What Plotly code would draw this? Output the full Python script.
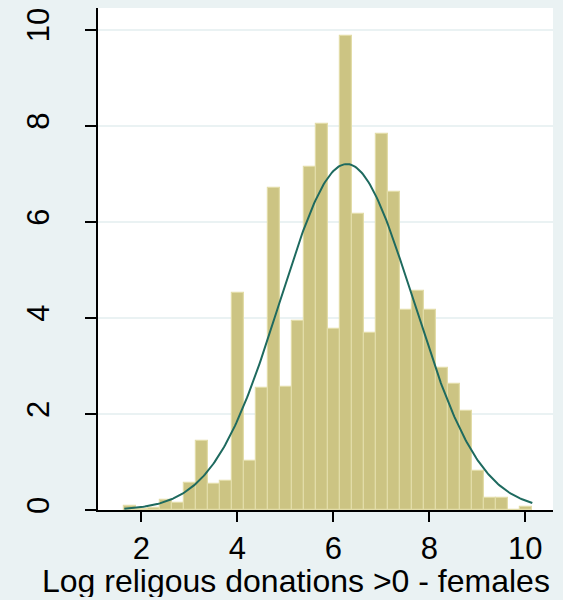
import numpy as np
import plotly.graph_objects as go

# Histogram of log religious donations (females), percent per bin
BIN_START = 1.646
BIN_WIDTH = 0.25
PERCENT = [0.09, 0.02, 0.05, 0.21, 0.14, 0.56, 1.43, 0.54, 0.60, 4.52,
           1.03, 2.54, 6.70, 2.57, 3.93, 7.14, 8.03, 3.76, 9.86, 6.16,
           3.69, 7.83, 6.61, 4.17, 4.55, 4.16, 2.95, 2.63, 2.06, 0.82,
           0.24, 0.24, 0.00, 0.07]

# Fitted normal overlay parameters
MEAN = 6.28
SD = 1.385

X_TICKS = [2, 4, 6, 8, 10]
Y_TICKS = [0, 2, 4, 6, 8, 10]
X_TITLE = "Log religous donations >0 - females"

BG = "#EAF2F3"
BAR_FILL = "#CCC483"
BAR_EDGE = "#E2DCA8"
CURVE = "#1E6A5F"
FONT = "Liberation Sans, Arial, sans-serif"

n = len(PERCENT)
centers = [BIN_START + BIN_WIDTH * (i + 0.5) for i in range(n)]
x_lo = BIN_START
x_hi = BIN_START + BIN_WIDTH * n

xs = np.linspace(x_lo, x_hi, 300)
dens = 100 * BIN_WIDTH * np.exp(-0.5 * ((xs - MEAN) / SD) ** 2) / (SD * np.sqrt(2 * np.pi))

fig = go.Figure()
fig.add_trace(go.Bar(
    x=centers, y=PERCENT, width=BIN_WIDTH,
    marker=dict(color=BAR_FILL, line=dict(color=BAR_EDGE, width=1.2)),
    showlegend=False, hoverinfo="x+y",
))
fig.add_trace(go.Scatter(
    x=xs, y=dens, mode="lines",
    line=dict(color=CURVE, width=2),
    showlegend=False, hoverinfo="skip",
))

fig.update_layout(
    width=563, height=600,
    margin=dict(l=98, r=10, t=8, b=90),
    paper_bgcolor=BG, plot_bgcolor="white",
    font=dict(family=FONT, color="black", size=31),
    bargap=0,
)
fig.update_xaxes(
    range=[1.098, 10.577],
    tickvals=X_TICKS, ticktext=[str(v) for v in X_TICKS],
    ticks="outside", ticklen=10, tickwidth=1.5, tickcolor="black",
    showline=True, linecolor="black", linewidth=1.5,
    showgrid=False, zeroline=False,
    tickfont=dict(size=31), ticklabelstandoff=0,
)
fig.update_yaxes(
    range=[0, 10.45],
    tickvals=Y_TICKS, ticktext=[str(v) for v in Y_TICKS],
    ticks="outside", ticklen=11, tickwidth=1.5, tickcolor="black",
    showline=True, linecolor="black", linewidth=1.5,
    showgrid=True, gridcolor=BG, gridwidth=1.5,
    zeroline=False, tickangle=-90,
    tickfont=dict(size=31), ticklabelstandoff=24,
)
fig.add_annotation(
    text=X_TITLE, xref="paper", yref="paper",
    x=0.435, y=-0.1414, xanchor="center", yanchor="middle",
    height=32, showarrow=False, font=dict(size=32, family=FONT),
)

fig.write_html("out.html")
